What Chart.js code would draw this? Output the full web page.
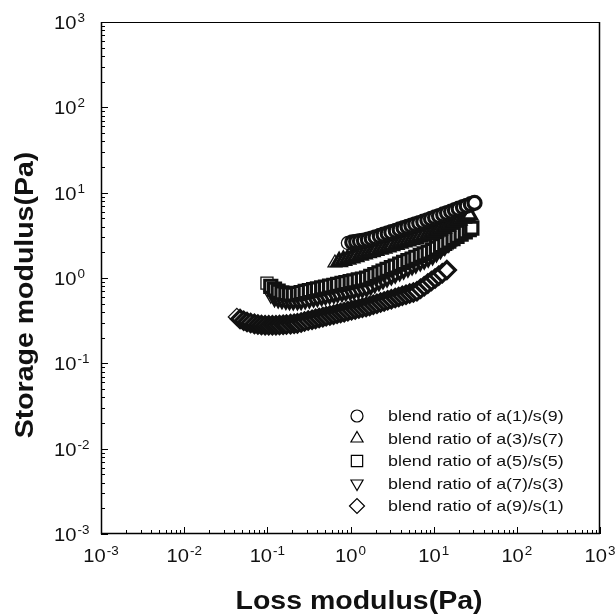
<!DOCTYPE html>
<html>
<head>
<meta charset="utf-8">
<script src="https://cdn.jsdelivr.net/npm/chart.js@4.4.1/dist/chart.umd.min.js"></script>
<style>
  html, body { margin: 0; padding: 0; background: #fff; }
  #wrap { width: 616px; height: 614px; }
</style>
</head>
<body>
<div id="wrap"><canvas id="modulus" width="616" height="614"></canvas></div>
<script>
// loss modulus (x) and storage modulus (y), Pa
const labels = ['blend ratio of a(1)/s(9)', 'blend ratio of a(3)/s(7)', 'blend ratio of a(5)/s(5)', 'blend ratio of a(7)/s(3)', 'blend ratio of a(9)/s(1)'];
const xTitle = 'Loss modulus(Pa)';
const yTitle = 'Storage modulus(Pa)';
const decades = [-3, -2, -1, 0, 1, 2, 3];

const a1x = [0.93, 1.05, 1.17, 1.3, 1.45, 1.62, 1.8, 2.0, 2.25, 2.5, 2.8, 3.1, 3.5, 3.9, 4.35, 4.85, 5.4, 6.0, 6.7, 7.5, 8.4, 9.3, 10.4, 11.6, 13, 14.5, 16.2, 18, 20, 22.5, 25, 28, 31];
const a1y = [2.57, 2.62, 2.66, 2.70, 2.75, 2.81, 2.90, 3.0, 3.11, 3.22, 3.33, 3.44, 3.58, 3.71, 3.84, 3.98, 4.11, 4.26, 4.41, 4.57, 4.74, 4.93, 5.13, 5.33, 5.56, 5.78, 6.01, 6.24, 6.49, 6.76, 7.03, 7.33, 7.59];

const a3x = [0.65, 0.73, 0.82, 0.92, 1.03, 1.15, 1.3, 1.45, 1.62, 1.8, 2.0, 2.25, 2.5, 2.8, 3.1, 3.5, 3.9, 4.35, 4.85, 5.4, 6.0, 6.7, 7.5, 8.4, 9.3, 10.4, 11.6, 13, 14.5, 16.2, 18, 20, 22.5, 25, 27];
const a3y = [1.50, 1.55, 1.61, 1.66, 1.72, 1.78, 1.85, 1.91, 1.98, 2.04, 2.10, 2.18, 2.24, 2.32, 2.39, 2.48, 2.56, 2.64, 2.73, 2.82, 2.90, 3.01, 3.10, 3.21, 3.31, 3.46, 3.65, 3.85, 4.06, 4.30, 4.52, 4.75, 5.04, 5.30, 5.50];

const a5x = [0.099, 0.11, 0.122, 0.135, 0.15, 0.167, 0.185, 0.205, 0.23, 0.255, 0.285, 0.32, 0.36, 0.4, 0.45, 0.5, 0.56, 0.63, 0.7, 0.79, 0.88, 0.99, 1.1, 1.24, 1.39, 1.56, 1.75, 1.96, 2.2, 2.46, 2.75, 3.1, 3.45, 3.9, 4.35, 4.9, 5.5, 6.1, 6.9, 7.7, 8.6, 9.7, 10.8, 12.1, 13.6, 15.2, 17.1, 19.1, 21.4, 24, 26.8, 28.8];
const a5y = [0.87, 0.80, 0.74, 0.70, 0.67, 0.655, 0.65, 0.648, 0.66, 0.676, 0.695, 0.711, 0.729, 0.746, 0.765, 0.783, 0.802, 0.822, 0.841, 0.863, 0.883, 0.906, 0.927, 0.951, 0.973, 0.998, 1.045, 1.094, 1.148, 1.202, 1.259, 1.32, 1.38, 1.45, 1.52, 1.60, 1.67, 1.75, 1.84, 1.92, 2.01, 2.11, 2.24, 2.39, 2.55, 2.71, 2.89, 3.07, 3.26, 3.48, 3.69, 3.85];

const a7x = [0.11, 0.122, 0.135, 0.15, 0.167, 0.185, 0.205, 0.23, 0.255, 0.285, 0.32, 0.36, 0.4, 0.45, 0.5, 0.56, 0.63, 0.7, 0.79, 0.88, 0.99, 1.1, 1.24, 1.39, 1.56, 1.75, 1.96, 2.2, 2.46, 2.75, 3.1, 3.45, 3.9, 4.35, 4.9, 5.5, 6.1, 6.9, 7.7, 8.6, 9.7, 10.8, 12.1, 13.6, 15.2, 17.1, 19];
const a7y = [0.63, 0.60, 0.58, 0.565, 0.555, 0.55, 0.548, 0.548, 0.55, 0.563, 0.575, 0.589, 0.600, 0.614, 0.627, 0.640, 0.655, 0.668, 0.684, 0.697, 0.713, 0.727, 0.744, 0.761, 0.778, 0.820, 0.865, 0.914, 0.964, 1.015, 1.074, 1.13, 1.20, 1.26, 1.33, 1.41, 1.48, 1.57, 1.65, 1.74, 1.85, 2.00, 2.18, 2.39, 2.60, 2.85, 3.09];

const a9x = [0.043, 0.047, 0.052, 0.057, 0.063, 0.07, 0.077, 0.085, 0.094, 0.104, 0.115, 0.127, 0.14, 0.155, 0.17, 0.19, 0.21, 0.23, 0.255, 0.28, 0.31, 0.345, 0.38, 0.42, 0.465, 0.51, 0.565, 0.625, 0.69, 0.76, 0.84, 0.93, 1.03, 1.14, 1.26, 1.39, 1.54, 1.7, 1.88, 2.08, 2.3, 2.54, 2.8, 3.1, 3.45, 3.8, 4.2, 4.65, 5.15, 5.7, 6.3, 6.95, 7.7, 8.5, 9.4, 10.4, 11.5, 12.7, 14.4];
const a9y = [0.35, 0.33, 0.315, 0.305, 0.297, 0.29, 0.285, 0.282, 0.28, 0.279, 0.279, 0.28, 0.281, 0.283, 0.285, 0.288, 0.291, 0.294, 0.301, 0.310, 0.317, 0.325, 0.332, 0.340, 0.348, 0.356, 0.364, 0.372, 0.381, 0.390, 0.398, 0.408, 0.418, 0.428, 0.438, 0.448, 0.458, 0.471, 0.486, 0.500, 0.516, 0.531, 0.547, 0.564, 0.582, 0.600, 0.618, 0.637, 0.657, 0.678, 0.698, 0.748, 0.802, 0.859, 0.921, 0.988, 1.06, 1.135, 1.24];

const styles = [
  { pointStyle: 'circle', radius: 6.5, rotation: 0, legendRadius: 6 },
  { pointStyle: 'triangle', radius: 8, rotation: 0, legendRadius: 7 },
  { pointStyle: 'rect', radius: 8.5, rotation: 0, legendRadius: 8 },
  { pointStyle: 'triangle', radius: 8, rotation: 180, legendRadius: 7 },
  { pointStyle: 'rectRot', radius: 8.5, rotation: 0, legendRadius: 7.5 }
];

function pairs(xs, ys) {
  return xs.map((x, i) => ({ x: x, y: ys[i] }));
}

const series = [[a1x, a1y], [a3x, a3y], [a5x, a5y], [a7x, a7y], [a9x, a9y]];
const datasets = series.map((s, i) => ({
  label: labels[i],
  data: pairs(s[0], s[1]),
  showLine: false,
  pointStyle: styles[i].pointStyle,
  pointRadius: styles[i].radius,
  pointRotation: styles[i].rotation,
  pointBackgroundColor: '#fff',
  pointBorderColor: '#111',
  // first marker of each run stays a clean outline, the rest pile up dark
  pointBorderWidth: c => (c.dataIndex === 0 ? 1.3 : 3.2),
  pointHoverRadius: styles[i].radius
}));

const FONT = '"Liberation Sans", Arial, sans-serif';

function stretchText(ctx, text, x, y, sx, rot) {
  ctx.save();
  ctx.translate(x, y);
  if (rot) ctx.rotate(rot);
  ctx.scale(sx, 1);
  ctx.fillText(text, 0, 0);
  ctx.restore();
}

// "10" with raised exponent
function powWidth(ctx, exp) {
  ctx.font = '18px ' + FONT;
  const w1 = ctx.measureText('10').width * 1.12;
  ctx.font = '12px ' + FONT;
  const w2 = ctx.measureText(String(exp)).width * 1.12;
  return w1 + w2 + 1;
}
function drawPow(ctx, exp, x, y) {
  ctx.textAlign = 'left';
  ctx.textBaseline = 'alphabetic';
  ctx.font = '18px ' + FONT;
  const w1 = ctx.measureText('10').width * 1.12;
  stretchText(ctx, '10', x, y, 1.12);
  ctx.font = '12px ' + FONT;
  stretchText(ctx, String(exp), x + w1 + 1, y - 7, 1.12);
}

const frame = {
  id: 'frame',
  beforeDatasetsDraw(chart) {
    const ctx = chart.ctx;
    const a = chart.chartArea;
    const xs = chart.scales.x, ys = chart.scales.y;
    ctx.save();
    ctx.strokeStyle = '#000';
    ctx.lineWidth = 1;
    ctx.strokeRect(a.left + 0.5, a.top + 0.5, a.right - a.left - 1, a.bottom - a.top - 1);
    ctx.lineWidth = 1.5;
    ctx.beginPath();
    ctx.moveTo(a.left + 0.5, a.top);
    ctx.lineTo(a.left + 0.5, a.bottom - 0.5);
    ctx.lineTo(a.right, a.bottom - 0.5);
    ctx.moveTo(a.right - 0.5, a.top);
    ctx.lineTo(a.right - 0.5, a.bottom);
    ctx.stroke();
    // inward ticks
    ctx.lineWidth = 1;
    ctx.beginPath();
    decades.forEach(d => {
      for (let m = 1; m <= 9; m++) {
        if (d === 3 && m > 1) break;
        const v = m * Math.pow(10, d);
        const len = m === 1 ? 7 : 4;
        const px = Math.round(xs.getPixelForValue(v)) + 0.5;
        const py = Math.round(ys.getPixelForValue(v)) + 0.5;
        ctx.moveTo(px, a.bottom);
        ctx.lineTo(px, a.bottom - len);
        ctx.moveTo(a.left, py);
        ctx.lineTo(a.left + len, py);
      }
    });
    ctx.stroke();
    // tick labels
    ctx.fillStyle = '#111';
    decades.forEach(d => {
      const v = Math.pow(10, d);
      const px = xs.getPixelForValue(v);
      const py = ys.getPixelForValue(v);
      drawPow(ctx, d, px - powWidth(ctx, d) / 2, a.bottom + 28);
      drawPow(ctx, d, 54, py + 7);
    });
    // axis titles
    ctx.font = 'bold 25px ' + FONT;
    ctx.textAlign = 'center';
    ctx.textBaseline = 'alphabetic';
    stretchText(ctx, xTitle, 359, 609, 1.14);
    stretchText(ctx, yTitle, 33, 295, 1.14, -Math.PI / 2);
    ctx.restore();
  },
  afterDatasetsDraw(chart) {
    const ctx = chart.ctx;
    ctx.save();
    labels.forEach((t, i) => {
      const y = 416 + i * 22.5;
      ctx.fillStyle = '#fff';
      ctx.strokeStyle = '#000';
      ctx.lineWidth = 1.2;
      Chart.helpers.drawPoint(ctx, {
        pointStyle: styles[i].pointStyle,
        radius: styles[i].legendRadius,
        rotation: styles[i].rotation,
        borderWidth: 1.2
      }, 357, y);
      ctx.fillStyle = '#111';
      ctx.font = '15px ' + FONT;
      ctx.textAlign = 'left';
      ctx.textBaseline = 'alphabetic';
      stretchText(ctx, t, 388, y + 5, 1.19);
    });
    ctx.restore();
  }
};

new Chart(document.getElementById('modulus'), {
  type: 'scatter',
  data: { datasets: datasets },
  options: {
    responsive: false,
    animation: false,
    layout: { padding: { left: 101, right: 16, top: 22, bottom: 80 } },
    plugins: { legend: { display: false }, tooltip: { enabled: false } },
    scales: {
      x: { type: 'logarithmic', min: 0.001, max: 1000, display: false },
      y: { type: 'logarithmic', min: 0.001, max: 1000, display: false }
    }
  },
  plugins: [frame]
});
</script>
</body>
</html>
